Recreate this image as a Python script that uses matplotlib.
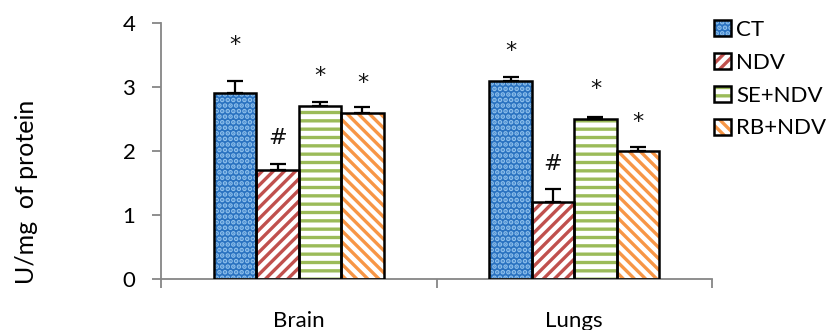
import matplotlib
matplotlib.use("Agg")
import matplotlib.pyplot as plt
from matplotlib.patches import Patch
import numpy as np

categories = ["Brain", "Lungs"]
groups = ["CT", "NDV", "SE+NDV", "RB+NDV"]
means = {
    "CT": [2.9, 3.1],
    "NDV": [1.7, 1.2],
    "SE+NDV": [2.7, 2.5],
    "RB+NDV": [2.6, 2.0],
}
errors = {
    "CT": [0.2, 0.06],
    "NDV": [0.1, 0.2],
    "SE+NDV": [0.07, 0.03],
    "RB+NDV": [0.09, 0.07],
}
marks = {
    "CT": ["*", "*"],
    "NDV": ["#", "#"],
    "SE+NDV": ["*", "*"],
    "RB+NDV": ["*", "*"],
}
mark_y = {
    "CT": [3.66, 3.56],
    "NDV": [2.2, 1.8],
    "SE+NDV": [3.17, 2.97],
    "RB+NDV": [3.06, 2.45],
}

# fill colour, hatch colour, hatch pattern
styles = {
    "CT": ("#2a72c0", "#8ec0ec", "..."),
    "NDV": ("white", "#c0504d", "///"),
    "SE+NDV": ("white", "#9bbb59", "--"),
    "RB+NDV": ("white", "#f79646", "\\\\\\"),
}

plt.rcParams["font.family"] = ["Lato", "DejaVu Sans"]
plt.rcParams["hatch.linewidth"] = 2.4

fig = plt.figure(figsize=(8.26, 3.3), dpi=100)
ax = fig.add_axes([0.195, 0.1545, 0.667, 0.7755])

x = np.arange(len(categories)) + 0.5
w = 0.154
for i, g in enumerate(groups):
    pos = x + (i - 1.5) * w
    face, hcol, hatch = styles[g]
    ax.bar(pos, means[g], width=w, color=face, edgecolor=hcol, hatch=hatch,
           linewidth=0, zorder=2)
    ax.bar(pos, means[g], width=w, fill=False, edgecolor="black",
           linewidth=1.8, zorder=3)
    ax.errorbar(pos, means[g], yerr=[np.zeros(len(pos)), errors[g]],
                fmt="none", ecolor="black", elinewidth=1.6, capsize=5.5,
                capthick=1.6, zorder=4)
    for px, m, my in zip(pos, marks[g], mark_y[g]):
        ax.text(px, my, m, ha="center", va="center", fontsize=16,
                color="#111111", family=["DejaVu Sans"])

ax.set_xlim(0, 2)
ax.set_ylim(0, 4)
ax.set_yticks([0, 1, 2, 3, 4])
ax.set_xticks([0, 1, 2])
ax.set_xticklabels([])
ax.set_xticks(x, minor=True)
ax.set_xticklabels(categories, minor=True)

spine_col = "#868686"
for s in ["top", "right"]:
    ax.spines[s].set_visible(False)
for s in ["left", "bottom"]:
    ax.spines[s].set_color(spine_col)
    ax.spines[s].set_linewidth(1.3)
ax.tick_params(axis="y", which="major", direction="out", length=6.5,
               width=1.3, color=spine_col, labelsize=16, pad=12)
ax.tick_params(axis="x", which="major", direction="out", length=6.5,
               width=1.3, color=spine_col)
ax.tick_params(axis="x", which="minor", length=0, labelsize=16, pad=23)

fig.text(27 / 826, 0.418, "U/mg  of protein", rotation=90, fontsize=18,
         ha="center", va="center")

handles = []
for g in groups:
    face, hcol, hatch = styles[g]
    handles.append((Patch(facecolor=face, edgecolor=hcol, hatch=hatch, linewidth=0),
                    Patch(fill=False, edgecolor="black", linewidth=1.8)))
fig.legend(handles, groups, loc="upper left", bbox_to_anchor=(0.865, 0.94),
           frameon=False, fontsize=16, handlelength=0.75, handleheight=0.75,
           handletextpad=0.22, labelspacing=0.58, borderpad=0,
           borderaxespad=0)

fig.savefig("out.png", dpi=100)
